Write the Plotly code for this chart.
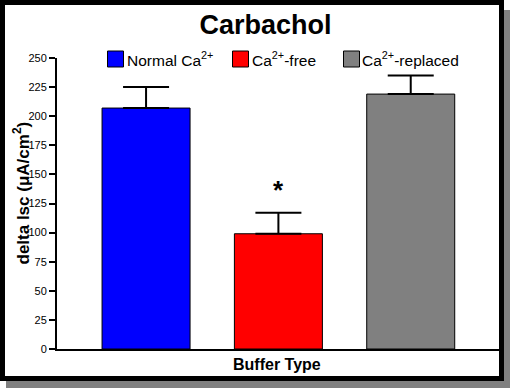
import plotly.graph_objects as go

# ---- data ----
categories = ["Normal Ca<sup>2+</sup>", "Ca<sup>2+</sup>-free", "Ca<sup>2+</sup>-replaced"]
means = [207, 99, 219]
sems = [18, 18, 16]
colors = ["#0000FF", "#FF0000", "#808080"]
x_pos = [0, 1, 2]
y_ticks = [0, 25, 50, 75, 100, 125, 150, 175, 200, 225, 250]
signif_y = 137

# ---- layout (pixels) ----
W, H = 510, 388
L, R, T, B = 57, 11, 58, 39
PW, PH = W - L - R, H - T - B
legend_swatch_x = [107, 232, 343]
legend_text_x = [125, 250, 360]
legend_y = 59

def px(x):
    return (x - L) / PW

def py(y):
    return (H - B - y) / PH

FONT = "Arial, Liberation Sans, sans-serif"

fig = go.Figure()

for i in range(3):
    fig.add_trace(go.Bar(
        x=[x_pos[i]], y=[means[i]], width=0.665, name=categories[i],
        marker=dict(color=colors[i], line=dict(color="black", width=1)),
        error_y=dict(type="data", array=[sems[i]], arrayminus=[0], symmetric=False,
                     color="black", thickness=2, width=23),
        showlegend=False,
    ))

fig.add_annotation(x=1, y=signif_y, text="<b>*</b>", showarrow=False,
                   font=dict(size=26, color="black", family=FONT), xref="x", yref="y")

shapes = [
    dict(type="rect", xref="paper", yref="paper", x0=px(6), x1=px(510), y0=py(388), y1=py(10),
         fillcolor="#808080", line=dict(width=0), layer="below"),
    dict(type="rect", xref="paper", yref="paper", x0=px(0), x1=px(504), y0=py(381), y1=py(0),
         fillcolor="black", line=dict(width=0), layer="below"),
    dict(type="rect", xref="paper", yref="paper", x0=px(5), x1=px(499), y0=py(376), y1=py(5),
         fillcolor="white", line=dict(width=0), layer="below"),
]

# legend: swatches + labels
for i in range(3):
    shapes.append(dict(type="rect", xref="paper", yref="paper",
                       x0=px(legend_swatch_x[i] + 0.5), x1=px(legend_swatch_x[i] + 16.5),
                       y0=py(legend_y + 8), y1=py(legend_y - 8),
                       fillcolor=colors[i], line=dict(color="black", width=1)))
    fig.add_annotation(x=px(legend_text_x[i]), y=py(legend_y), xref="paper", yref="paper",
                       text=categories[i], showarrow=False, xanchor="left", yanchor="middle",
                       font=dict(size=15.5, color="black", family=FONT))

# y-axis title
fig.add_annotation(x=px(21), y=py(193.5), xref="paper", yref="paper",
                   text="<b>delta Isc (μA/cm<sup>2</sup>)</b>", textangle=-90, showarrow=False,
                   xanchor="center", yanchor="middle",
                   font=dict(size=17, color="black", family=FONT))
# x-axis title
fig.add_annotation(x=px(277), y=py(364), xref="paper", yref="paper",
                   text="<b>Buffer Type</b>", showarrow=False,
                   xanchor="center", yanchor="middle",
                   font=dict(size=16, color="black", family=FONT))

fig.update_layout(
    width=W, height=H,
    margin=dict(l=L, r=R, t=T, b=B, autoexpand=False),
    paper_bgcolor="white", plot_bgcolor="white",
    barmode="overlay",
    shapes=shapes,
    showlegend=False,
    title=dict(text="<b>Carbachol</b>", x=px(265.5), xref="paper", xanchor="center",
               y=1 - 25 / H, yref="container", yanchor="middle",
               font=dict(size=27, color="black", family=FONT)),
    font=dict(family=FONT, color="black"),
    xaxis=dict(range=[-0.673, 2.667], showticklabels=False, ticks="", showgrid=False,
               zeroline=False, showline=True, linecolor="black", linewidth=2, automargin=False),
    yaxis=dict(range=[0, 250], tickvals=y_ticks, ticks="outside", ticklen=6, tickwidth=2,
               tickcolor="black", showgrid=False, zeroline=False, showline=True,
               linecolor="black", linewidth=2, automargin=False,
               tickfont=dict(size=11, color="black", family=FONT)),
)

fig.write_html("out.html", config={"displayModeBar": False},
               post_script="document.body.style.margin='0px';")
